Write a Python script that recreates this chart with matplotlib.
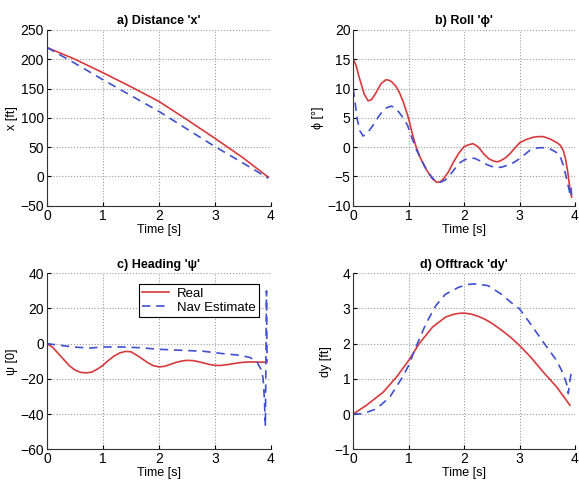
import numpy as np
from matplotlib import pyplot as plt

plt.rcParams['font.family'] = ['Liberation Sans', 'DejaVu Sans']
plt.rcParams['font.size'] = 9

# ---------------- data ----------------
# a) Distance x [ft]
t_xr = [0, 0.5, 1.0, 1.5, 2.0, 2.5, 3.0, 3.5, 3.95]
x_real = [220, 200, 177, 153, 128, 97, 65, 32, -1]
t_xn = [0, 0.5, 1.0, 1.5, 2.0, 2.5, 3.0, 3.5, 3.95]
x_nav = [220, 193, 165, 138, 111, 81, 51, 23, -3]

# b) Roll phi [deg]
t_pr = [0, 0.05, 0.1, 0.15, 0.2, 0.27, 0.33, 0.4, 0.5, 0.59, 0.65, 0.7,
        0.77, 0.83, 0.9, 1.0, 1.06, 1.13, 1.2, 1.31, 1.42, 1.51, 1.57, 1.62,
        1.72, 1.8, 1.9, 2.0, 2.08, 2.16, 2.25, 2.37, 2.45, 2.54, 2.6, 2.66,
        2.75, 2.83, 2.92, 3.01, 3.12, 3.25, 3.34, 3.43, 3.55, 3.67, 3.74,
        3.79, 3.83, 3.87, 3.91, 3.94]
phi_real = [15, 14.0, 12.2, 10.6, 9.0, 7.9, 8.1, 9.1, 10.8, 11.5, 11.4, 11.1,
            10.4, 9.4, 7.8, 4.9, 2.5, 0.2, -1.6, -3.7, -5.3, -6.0, -5.9, -5.5,
            -4.2, -2.7, -1.1, 0.1, 0.4, 0.6, 0.1, -1.3, -2.0, -2.4, -2.5,
            -2.3, -1.8, -1.1, -0.1, 0.8, 1.3, 1.7, 1.8, 1.8, 1.4, 0.8, 0.3,
            -0.6, -2.0, -4.2, -7.2, -8.5]
t_pn = [0, 0.04, 0.07, 0.12, 0.18, 0.27, 0.36, 0.45, 0.54, 0.62, 0.69, 0.76,
        0.83, 0.9, 0.98, 1.05, 1.13, 1.22, 1.31, 1.4, 1.49, 1.57, 1.66, 1.75,
        1.84, 1.92, 2.0, 2.1, 2.19, 2.28, 2.37, 2.47, 2.57, 2.68, 2.78, 2.9,
        3.01, 3.1, 3.19, 3.28, 3.37, 3.46, 3.55, 3.63, 3.7, 3.75, 3.79, 3.83,
        3.87, 3.91, 3.93, 3.94]
phi_nav = [10, 7.2, 4.9, 2.8, 1.9, 2.6, 3.75, 5.1, 6.3, 6.8, 7.0, 6.7, 5.9,
           5.0, 3.75, 1.8, -0.2, -2.0, -3.6, -4.9, -5.9, -6.0, -5.6, -4.7,
           -3.6, -2.7, -2.2, -1.9, -1.9, -2.3, -2.8, -3.2, -3.5, -3.4, -3.1,
           -2.6, -1.9, -1.2, -0.5, -0.2, -0.1, -0.1, -0.3, -0.7, -1.1, -2.0,
           -3.1, -4.6, -6.3, -7.9, -7.0, -8.2]

# c) Heading psi
t_hr = [0, 0.1, 0.2, 0.3, 0.4, 0.5, 0.6, 0.7, 0.8, 0.9, 1.0, 1.1, 1.2, 1.3,
        1.4, 1.5, 1.6, 1.7, 1.8, 1.9, 2.0, 2.1, 2.2, 2.3, 2.4, 2.5, 2.6, 2.7,
        2.8, 2.9, 3.0, 3.1, 3.2, 3.3, 3.4, 3.5, 3.6, 3.7, 3.8, 3.93]
psi_real = [0, -2.0, -5.5, -9.0, -12.5, -15.0, -16.3, -16.6, -16.2, -14.5,
            -12.3, -9.5, -7.0, -5.3, -4.4, -4.6, -6.5, -8.6, -10.8, -12.5,
            -13.2, -12.9, -11.8, -10.7, -9.9, -9.5, -9.6, -10.2, -11.0, -11.8,
            -12.3, -12.4, -12.0, -11.5, -11.0, -10.6, -10.4, -10.4, -10.5,
            -10.5]
t_hn = [0, 0.23, 0.47, 0.77, 1.0, 1.36, 1.66, 2.0, 2.43, 2.79, 3.15, 3.45,
        3.63, 3.75, 3.83, 3.86, 3.87, 3.88, 3.89, 3.9, 3.92, 3.93]
psi_nav = [0, -0.9, -1.9, -2.5, -1.9, -1.9, -2.3, -3.2, -3.8, -4.3, -5.7,
           -6.6, -7.9, -10.4, -15, -20, -25, -30, -38, -47, 30, -10]

# d) Offtrack dy [ft]
t_dr = [0, 0.24, 0.54, 0.78, 1.0, 1.19, 1.43, 1.66, 1.8, 1.9, 2.0, 2.13,
        2.25, 2.37, 2.5, 2.6, 2.72, 2.84, 3.0, 3.2, 3.43, 3.67, 3.91]
dy_real = [0, 0.25, 0.62, 1.05, 1.52, 2.0, 2.47, 2.75, 2.83, 2.86, 2.87,
           2.84, 2.78, 2.7, 2.58, 2.47, 2.33, 2.18, 1.95, 1.62, 1.19, 0.77,
           0.25]
t_dn = [0, 0.18, 0.42, 0.66, 0.89, 1.0, 1.13, 1.31, 1.49, 1.66, 1.9, 2.05,
        2.19, 2.43, 2.66, 2.84, 3.0, 3.2, 3.43, 3.67, 3.79, 3.85, 3.88, 3.91,
        3.94]
dy_nav = [0, 0.01, 0.15, 0.48, 1.05, 1.38, 1.9, 2.56, 3.08, 3.4, 3.6, 3.68,
          3.7, 3.65, 3.42, 3.18, 2.99, 2.56, 2.04, 1.52, 1.14, 0.86, 0.58,
          0.96, 1.24]

red = '#d8393b'
blue = '#4050d0'

fig = plt.figure(figsize=(5.79, 4.82), dpi=100)

panels = [
    ([0.081, 0.573, 0.387, 0.365], t_xr, x_real, t_xn, x_nav,
     "a) Distance 'x'", 'x [ft]', (-50, 250), np.arange(-50, 251, 50)),
    ([0.610, 0.573, 0.383, 0.365], t_pr, phi_real, t_pn, phi_nav,
     "b) Roll '\u03d5'", '\u03d5 [\u00b0]', (-10, 20), np.arange(-10, 21, 5)),
    ([0.081, 0.068, 0.387, 0.365], t_hr, psi_real, t_hn, psi_nav,
     "c) Heading '\u03c8'", '\u03c8 [0]', (-60, 40), np.arange(-60, 41, 20)),
    ([0.610, 0.068, 0.383, 0.365], t_dr, dy_real, t_dn, dy_nav,
     "d) Offtrack 'dy'", 'dy [ft]', (-1, 4), np.arange(-1, 5, 1)),
]

for i, (pos, tr, yr, tn, yn, title, ylab, ylim, yt) in enumerate(panels):
    ax = fig.add_axes(pos)
    ax.plot(tr, yr, '-', color=red, lw=1.2, label='Real')
    ax.plot(tn, yn, '--', color=blue, lw=1.2, dashes=(5, 3.5), label='Nav Estimate')
    ax.set_xlim(0, 4)
    ax.set_ylim(*ylim)
    ax.set_xticks(range(5))
    ax.set_yticks(yt)
    ax.set_yticklabels([str(v).replace('-', '\u2212') for v in yt])
    ax.grid(True, linestyle=':', color='#999999', lw=0.8)
    ax.spines['top'].set_visible(False)
    ax.spines['right'].set_visible(False)
    ax.spines['left'].set_color('#333333')
    ax.spines['bottom'].set_color('#333333')
    ax.tick_params(direction='in', length=3, labelsize=10, pad=2)
    ax.set_title(title, fontweight='bold', fontsize=9, pad=4)
    ax.set_xlabel('Time [s]', fontsize=9, labelpad=1)
    ax.set_ylabel(ylab, fontsize=9, labelpad=2)
    if i == 2:
        leg = ax.legend(loc='upper right', fontsize=9.5, fancybox=False,
                        framealpha=1, edgecolor='black', borderpad=0.25,
                        labelspacing=0.15, handlelength=2.0, handletextpad=0.6,
                        bbox_to_anchor=(0.975, 0.975))
        leg.get_frame().set_linewidth(0.8)

fig.savefig('out.png', dpi=100)
